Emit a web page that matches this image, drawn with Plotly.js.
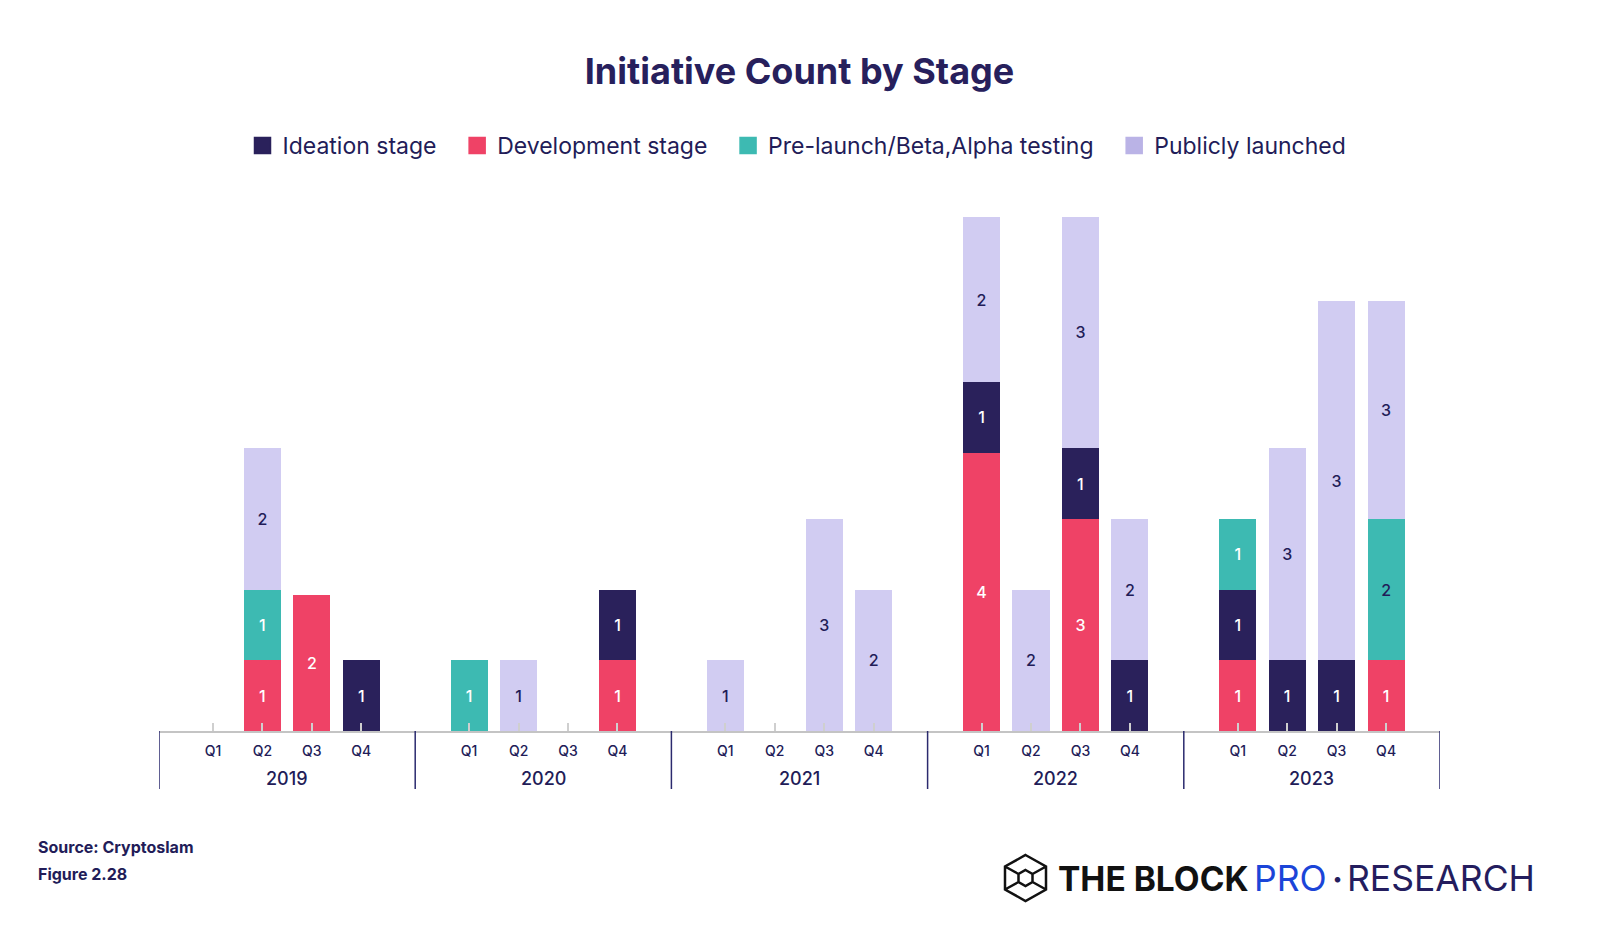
<!DOCTYPE html>
<html><head><meta charset="utf-8">
<script src="https://cdn.plot.ly/plotly-3.0.1.min.js"></script>
<style>html,body{margin:0;padding:0;background:#fff;} #chart{width:1600px;height:941px;}</style>
</head><body><div id="chart"></div>
<script>
// ---------- data ----------
const years = ['2019', '2020', '2021', '2022', '2023'];
const quarters = ['Q1', 'Q2', 'Q3', 'Q4'];
const seriesNames = ['Ideation stage', 'Development stage', 'Pre-launch/Beta,Alpha testing', 'Publicly launched'];

// counts printed on the segments (2019 Q1 ... 2023 Q4)
const ideationCount    = [0,0,0,1, 0,0,0,1, 0,0,0,0, 1,0,1,1, 1,1,1,0];
const developmentCount = [0,1,2,0, 0,0,0,1, 0,0,0,0, 4,0,3,0, 1,0,0,1];
const prelaunchCount   = [0,1,0,0, 1,0,0,0, 0,0,0,0, 0,0,0,0, 1,0,0,2];
const launchedCount    = [0,2,0,0, 0,1,0,0, 1,0,3,2, 2,2,3,2, 0,3,3,3];

// segment heights as drawn in the source picture
const ideationHeight    = [0,0,0,1, 0,0,0,1, 0,0,0,0, 1,0,1,1, 1,1,1,0];
const developmentHeight = [0,1,1.93,0, 0,0,0,1, 0,0,0,0, 3.94,0,3,0, 1,0,0,1];
const prelaunchHeight   = [0,1,0,0, 1,0,0,0, 0,0,0,0, 0,0,0,0, 1,0,0,2];
const launchedHeight    = [0,2,0,0, 0,1,0,0, 1,0,3,2, 2.33,2,3.28,2, 0,3,5.08,3.08];

// ---------- style ----------
const NAVY = '#2a215b', RED = '#ef4266', TEAL = '#3dbab2', LAV = '#d1ccf2', LAV_LEG = '#bab3e6';
const TXT = '#221c58';
const FONT = 'Inter, "Open Sans", sans-serif';

// ---------- geometry ----------
const W = 1600, H = 941;
const plotL = 159, plotR = 1440, plotT = 201, plotB = 731;
const G = 5.18;                 // x-units per year group
const pad = (G - 3) / 2;        // space at each side of a group
const xMin = -pad, xMax = (years.length - 1) * G + 3 + pad;
const pxX = p => (p - plotL) / (plotR - plotL);
const pxY = p => (plotB - p) / (plotB - plotT);

const xs = [], qLabels = [];
years.forEach((y, g) => quarters.forEach((q, k) => { xs.push(g * G + k); qLabels.push(q); }));

const lbl = arr => arr.map(v => v ? String(v) : '');
const barCommon = {
  type: 'bar', x: xs, width: 0.75, showlegend: false, hoverinfo: 'skip',
  textposition: 'inside', insidetextanchor: 'middle', textangle: 0,
  texttemplate: '%{text}', marker: {line: {width: 0}}
};
const prelaunchTextColor = prelaunchCount.map((v, i) => i === 19 ? TXT : '#ffffff');

const traces = [
  Object.assign({}, barCommon, {name: seriesNames[1], y: developmentHeight, text: lbl(developmentCount),
    marker: {color: RED}, textfont: {family: FONT, size: 16, weight: 500, color: '#ffffff'}}),
  Object.assign({}, barCommon, {name: seriesNames[0], y: ideationHeight, text: lbl(ideationCount),
    marker: {color: NAVY}, textfont: {family: FONT, size: 16, weight: 500, color: '#ffffff'}}),
  Object.assign({}, barCommon, {name: seriesNames[2], y: prelaunchHeight, text: lbl(prelaunchCount),
    marker: {color: TEAL}, textfont: {family: FONT, size: 16, weight: 500, color: prelaunchTextColor}}),
  Object.assign({}, barCommon, {name: seriesNames[3], y: launchedHeight, text: lbl(launchedCount),
    marker: {color: LAV}, textfont: {family: FONT, size: 16, weight: 500, color: TXT}})
];
// legend entries
const legColors = [NAVY, RED, TEAL, LAV_LEG];
seriesNames.forEach((n, i) => traces.push({
  type: 'scatter', mode: 'markers', x: [null], y: [null], name: n + '\u2002\u2009',
  marker: {symbol: 'square', size: 16, color: legColors[i], line: {color: legColors[i], width: 1.5}},
  hoverinfo: 'skip', showlegend: true
}));

// dividers
const shapes = [];
for (let g = 0; g <= years.length; g++) {
  const xv = g === years.length ? xMax : g * G - pad;
  shapes.push({type: 'line', xref: 'x', yref: 'paper', x0: xv, x1: xv, y0: 0, y1: pxY(789),
    line: {color: '#2b2a6e', width: 1.5}});
}
// logo icon
const cx = 1025.5, cy = 878, R = 23, hw = 20.5, r = 8, rw = 7;
const P = (x, y) => pxX(x).toFixed(5) + ',' + pxY(y).toFixed(5);
const outer = [[cx, cy - R], [cx + hw, cy - R / 2], [cx + hw, cy + R / 2], [cx, cy + R], [cx - hw, cy + R / 2], [cx - hw, cy - R / 2]];
const inner = [[cx, cy - r], [cx + rw, cy - r / 2], [cx + rw, cy + r / 2], [cx, cy + r], [cx - rw, cy + r / 2], [cx - rw, cy - r / 2]];
const hexPath = pts => 'M' + pts.map(p => P(p[0], p[1])).join('L') + 'Z';
let path = hexPath(outer) + hexPath(inner);
[1, 2, 4, 5].forEach(i => { path += 'M' + P(outer[i][0], outer[i][1]) + 'L' + P(inner[i][0], inner[i][1]); });
shapes.push({type: 'path', xref: 'paper', yref: 'paper', path: path, line: {color: '#111111', width: 2.5}});

// annotations
const annotations = years.map((y, g) => ({
  text: y, xref: 'x', yref: 'paper', x: g * G + 1.5, y: pxY(778.3), yanchor: 'middle',
  showarrow: false, font: {family: FONT, size: 18, weight: 500, color: TXT}
}));
annotations.push(
  {text: 'Source: Cryptoslam', xref: 'paper', yref: 'paper', x: pxX(36), y: pxY(846.7), xanchor: 'left', yanchor: 'middle',
   showarrow: false, font: {family: FONT, size: 16, weight: 700, color: TXT}},
  {text: 'Figure 2.28', xref: 'paper', yref: 'paper', x: pxX(36), y: pxY(874), xanchor: 'left', yanchor: 'middle',
   showarrow: false, font: {family: FONT, size: 16, weight: 700, color: TXT}},
  {text: 'THE BLOCK', xref: 'paper', yref: 'paper', x: pxX(1056), y: pxY(878.7), xanchor: 'left', yanchor: 'middle',
   showarrow: false, font: {family: FONT, size: 33.5, weight: 700, color: '#111111'}},
  {text: 'PRO', xref: 'paper', yref: 'paper', x: pxX(1252), y: pxY(878.7), xanchor: 'left', yanchor: 'middle',
   showarrow: false, font: {family: FONT, size: 35.5, weight: 400, color: '#1b45d8'}},
  {text: '\u00b7', xref: 'paper', yref: 'paper', x: pxX(1337), y: pxY(878.7), xanchor: 'center', yanchor: 'middle',
   showarrow: false, font: {family: FONT, size: 33, weight: 700, color: '#241d5e'}},
  {text: 'RESEARCH', xref: 'paper', yref: 'paper', x: pxX(1345), y: pxY(878.7), xanchor: 'left', yanchor: 'middle',
   showarrow: false, font: {family: FONT, size: 35.5, weight: 400, color: '#241d5e'}}
);

const layout = {
  width: W, height: H, paper_bgcolor: '#ffffff', plot_bgcolor: '#ffffff',
  margin: {l: plotL, r: W - plotR, t: plotT, b: H - plotB, pad: 0},
  barmode: 'stack', showlegend: true,
  title: {text: 'Initiative Count by Stage', xref: 'paper', x: 0.5, xanchor: 'center',
          yref: 'container', y: 1 - 71 / H, yanchor: 'middle',
          font: {family: FONT, size: 36, weight: 700, color: '#27205c'}},
  legend: {orientation: 'h', x: pxX(805), xanchor: 'center', y: pxY(145.5), yanchor: 'middle',
           font: {family: FONT, size: 23, color: TXT}, traceorder: 'normal', bgcolor: 'rgba(0,0,0,0)'},
  xaxis: {range: [xMin, xMax], tickmode: 'array', tickvals: [xMin].concat(xs, [xMax]),
          ticktext: [''].concat(qLabels, ['']), ticks: 'inside', ticklen: 8, tickwidth: 2, tickcolor: '#cfcfcf',
          showline: true, linecolor: '#c4c4c4', linewidth: 2, showgrid: false, zeroline: false,
          tickfont: {family: FONT, size: 14, weight: 500, color: TXT}, ticklabelstandoff: 6, fixedrange: true},
  yaxis: {range: [0, 7.5], visible: false, fixedrange: true},
  shapes: shapes, annotations: annotations, hovermode: false
};
Plotly.newPlot('chart', traces, layout, {displayModeBar: false, staticPlot: true});
</script></body></html>
